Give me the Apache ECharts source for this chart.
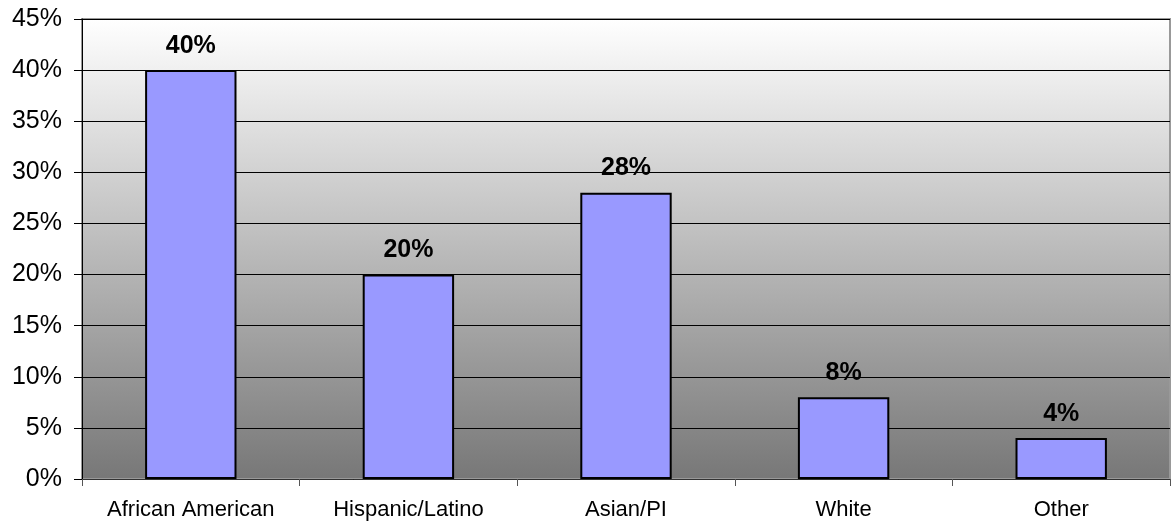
<!DOCTYPE html>
<html>
<head>
<meta charset="utf-8">
<script src="https://cdn.jsdelivr.net/npm/echarts@6/dist/echarts.min.js"></script>
<style>
  html, body { margin: 0; padding: 0; background: #fff; }
  #chart { width: 1172px; height: 531px; }
</style>
</head>
<body>
<div id="chart"></div>
<script>
// data
var categories = ['African American', 'Hispanic/Latino', 'Asian/PI', 'White', 'Other'];
var shares = [40, 20, 28, 8, 4];

var chart = echarts.init(document.getElementById('chart'));
chart.setOption({
  animation: false,
  grid: {
    left: 82, right: 2, top: 19, bottom: 52,
    show: true,
    borderColor: '#999',
    borderWidth: 2,
    backgroundColor: new echarts.graphic.LinearGradient(0, 0, 0, 1, [
      { offset: 0, color: '#ffffff' },
      { offset: 1, color: '#777777' }
    ])
  },
  xAxis: {
    type: 'category',
    data: categories,
    axisLine: { lineStyle: { color: '#333', width: 1 } },
    axisTick: { show: true, interval: 0, length: 7, lineStyle: { color: '#555' } },
    axisLabel: {
      interval: 0,
      color: '#000', fontFamily: 'Liberation Sans, Arial', fontSize: 22, margin: 20
    }
  },
  yAxis: {
    type: 'value',
    min: 0, max: 45, interval: 5,
    axisLine: { show: true, lineStyle: { color: '#000' } },
    axisTick: { show: true, length: 8, lineStyle: { color: '#000' } },
    axisLabel: {
      formatter: '{value}%',
      color: '#000', fontFamily: 'Liberation Sans, Arial', fontSize: 25, margin: 20
    },
    splitLine: { lineStyle: { color: '#000', width: 1 } }
  },
  series: [{
    type: 'bar',
    data: shares,
    barWidth: '42%',
    itemStyle: { color: '#9999ff', borderColor: '#000', borderWidth: 2 },
    label: {
      show: true, position: 'top', distance: 12,
      formatter: '{c}%',
      color: '#000', fontWeight: 'bold', fontSize: 25,
      fontFamily: 'Liberation Sans, Arial'
    }
  }]
});
</script>
</body>
</html>
